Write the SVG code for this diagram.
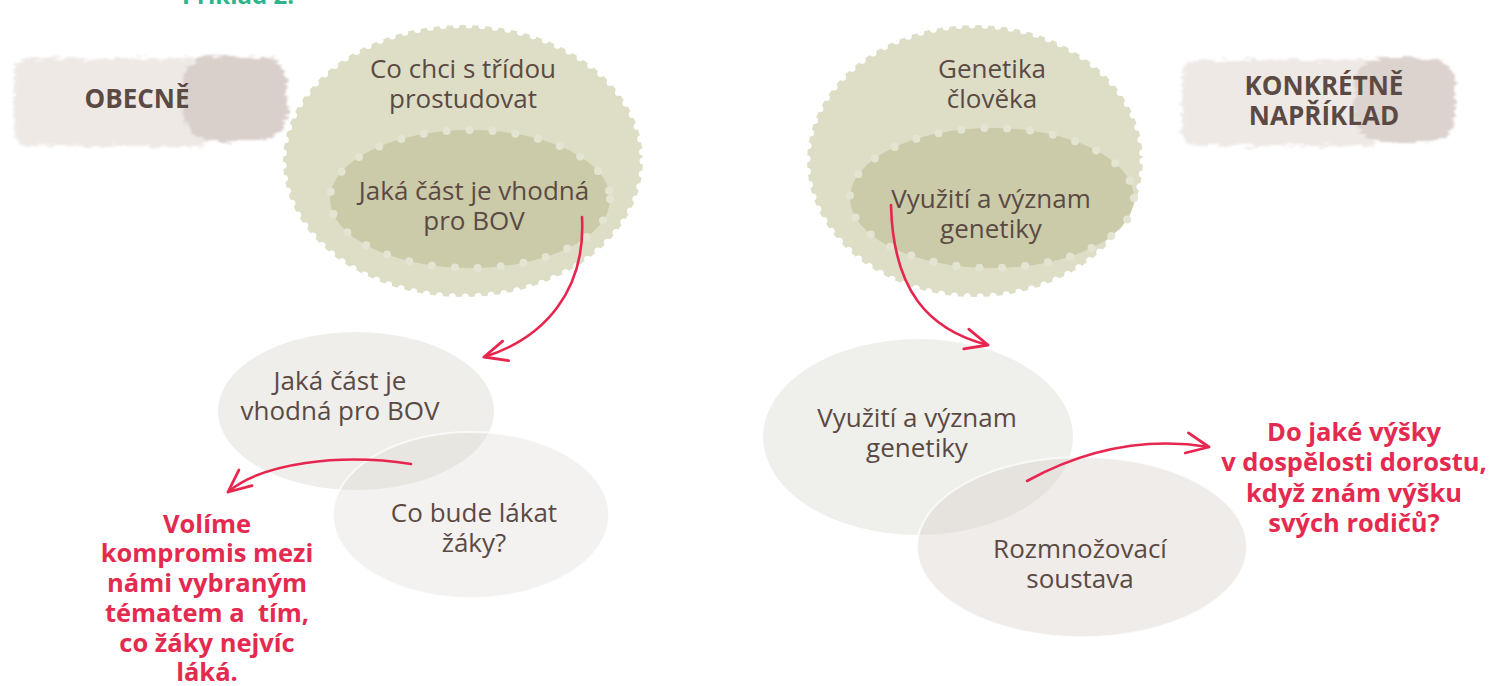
<svg xmlns="http://www.w3.org/2000/svg" width="1494" height="686" viewBox="0 0 1494 686">
<defs>
<style>
.t{font-family:"Open Sans","Noto Sans",sans-serif;font-size:26px;fill:#5b4a43;text-anchor:middle}
.b{font-family:"Open Sans","Noto Sans",sans-serif;font-size:26px;font-weight:bold;fill:#5b4a43;text-anchor:middle}
.r{font-family:"Open Sans","Noto Sans",sans-serif;font-size:25.5px;font-weight:bold;fill:#e52a50;text-anchor:middle}
.outer{fill:#dedec7}
.outerdots{fill:none;stroke:#fff;stroke-width:7;stroke-linecap:round;stroke-dasharray:0 13}
.inner{fill:#cbcbaa}
.innerdots{fill:none;stroke:#e4e4d3;stroke-width:8;stroke-linecap:round;stroke-dasharray:0 23}
.arrow{fill:none;stroke:#e6264e;stroke-width:2.6;stroke-linecap:round;marker-end:url(#head)}
</style>
<marker id="head" markerUnits="userSpaceOnUse" markerWidth="30" markerHeight="30" viewBox="-24 -14 28 28" refX="0" refY="0" orient="auto">
<path d="M-21,-10 L0,0 L-21,9" fill="none" stroke="#e6264e" stroke-width="2.6" stroke-linecap="round" stroke-linejoin="round"/>
</marker>
<filter id="brush" x="-10%" y="-25%" width="120%" height="150%">
<feTurbulence type="fractalNoise" baseFrequency="0.06 0.3" numOctaves="3" seed="4" result="n"/>
<feDisplacementMap in="SourceGraphic" in2="n" scale="12" xChannelSelector="R" yChannelSelector="G" result="d"/>
<feGaussianBlur in="d" stdDeviation="1.2"/>
</filter>
</defs>
<rect width="1494" height="686" fill="#fff"/>

<g id="title">
<text x="238" y="4" style="font-family:'Open Sans','Noto Sans',sans-serif;font-size:24px;font-weight:bold;fill:#2db48b;text-anchor:middle">Příklad 2:</text>
</g>

<g id="obecne">
<g filter="url(#brush)">
<rect x="14" y="58" width="200" height="88" rx="16" fill="#efe9e6"/>
<rect x="183" y="56" width="104" height="85" rx="28" fill="#d9cfcb"/>
</g>
<text class="b" x="137" y="108">OBECNĚ</text>
</g>

<g id="konkretne">
<g filter="url(#brush)">
<rect x="1182" y="60" width="200" height="86" rx="16" fill="#efe9e6"/>
<rect x="1355" y="58" width="100" height="84" rx="26" fill="#dcd2ce"/>
</g>
<text class="b" x="1324" y="95">KONKRÉTNĚ</text>
<text class="b" x="1324" y="125">NAPŘÍKLAD</text>
</g>

<g id="left-outer">
<ellipse class="outer" cx="463" cy="161" rx="180" ry="136"/>
<ellipse class="outerdots" cx="463" cy="161" rx="180" ry="136"/>
<text class="t" x="463" y="78">Co chci s třídou</text>
<text class="t" x="463" y="108">prostudovat</text>
</g>
<g id="left-inner">
<ellipse class="inner" cx="470" cy="199" rx="140" ry="69"/>
<ellipse class="innerdots" cx="470" cy="199" rx="140" ry="69"/>
<text class="t" x="474" y="200">Jaká část je vhodná</text>
<text class="t" x="474" y="230">pro BOV</text>
</g>

<g id="right-outer">
<ellipse class="outer" cx="975" cy="161" rx="168" ry="136"/>
<ellipse class="outerdots" cx="975" cy="161" rx="168" ry="136"/>
<text class="t" x="992" y="78">Genetika</text>
<text class="t" x="992" y="108">člověka</text>
</g>
<g id="right-inner">
<ellipse class="inner" cx="992" cy="198" rx="142" ry="70"/>
<ellipse class="innerdots" cx="992" cy="198" rx="142" ry="70"/>
<text class="t" x="991" y="208">Využití a význam</text>
<text class="t" x="991" y="238">genetiky</text>
</g>

<g id="bov">
<ellipse cx="356" cy="411" rx="138" ry="79" fill="#efeeea"/>
<text class="t" x="340" y="390">Jaká část je</text>
<text class="t" x="340" y="420">vhodná pro BOV</text>
</g>
<g id="lakat">
<ellipse cx="471" cy="515" rx="138" ry="83" fill="#d9d6d0" fill-opacity="0.31" stroke="#fff" stroke-opacity="0.7" stroke-width="2"/>
<text class="t" x="474" y="522">Co bude lákat</text>
<text class="t" x="474" y="552">žáky?</text>
</g>

<g id="vyuziti">
<ellipse cx="918" cy="437" rx="155" ry="98" fill="#efefeb"/>
<text class="t" x="917" y="427">Využití a význam</text>
<text class="t" x="917" y="457">genetiky</text>
</g>
<g id="rozmnozovaci">
<ellipse cx="1082" cy="547" rx="165" ry="90" fill="#d8d2cc" fill-opacity="0.42" stroke="#fff" stroke-opacity="0.7" stroke-width="2"/>
<text class="t" x="1080" y="558">Rozmnožovací</text>
<text class="t" x="1080" y="588">soustava</text>
</g>

<g id="volime">
<text class="r" x="207" y="533">Volíme</text>
<text class="r" x="207" y="562">kompromis mezi</text>
<text class="r" x="207" y="592">námi vybraným</text>
<text class="r" x="207" y="622" xml:space="preserve">tématem a  tím,</text>
<text class="r" x="207" y="652">co žáky nejvíc</text>
<text class="r" x="207" y="681">láká.</text>
</g>

<g id="otazka">
<text class="r" x="1354" y="441">Do jaké výšky</text>
<text class="r" x="1354" y="471">v dospělosti dorostu,</text>
<text class="r" x="1354" y="502">když znám výšku</text>
<text class="r" x="1354" y="532">svých rodičů?</text>
</g>

<g id="connectors">
<path class="arrow" d="M582,217 C586,290 545,338 484,357"/>
<path class="arrow" d="M891,205 C893,290 928,330 988,345"/>
<path class="arrow" d="M411,464 C340,453 262,463 228,492"/>
<path class="arrow" d="M1027,481 C1080,452 1140,436 1209,447"/>
</g>
</svg>
